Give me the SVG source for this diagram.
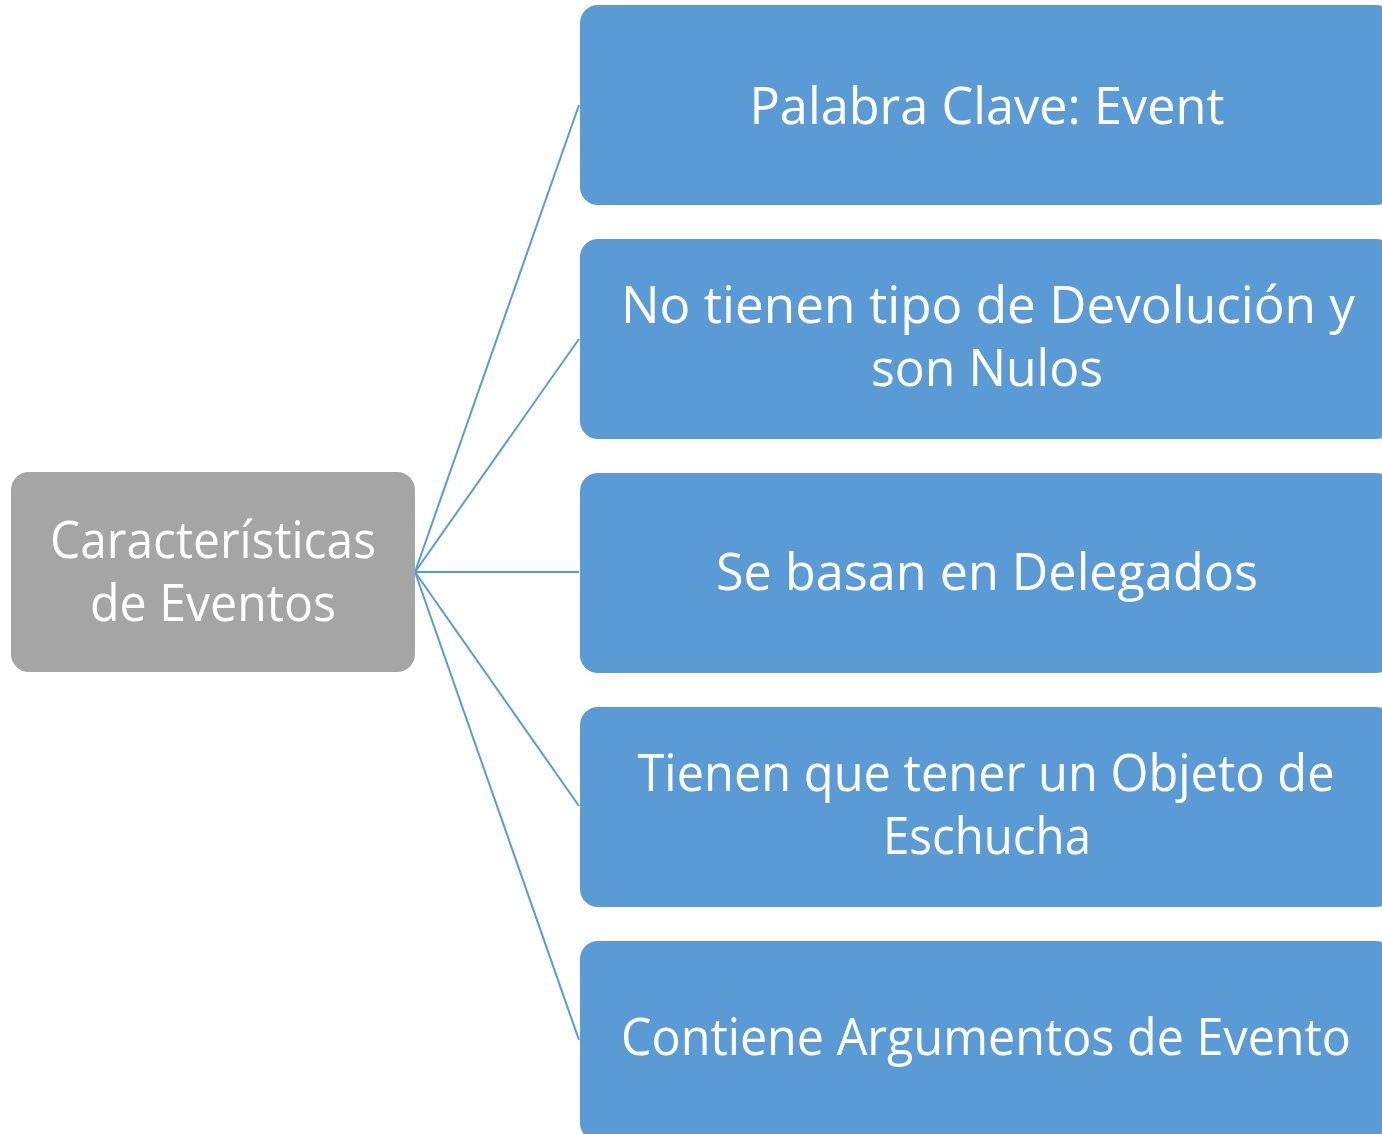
<svg xmlns="http://www.w3.org/2000/svg" width="1382" height="1134" viewBox="0 0 1382 1134">
  <style>
    .blue { fill: #5B9BD5; }
    .gray { fill: #A5A5A5; }
    .t { font-family: "Open Sans", "Noto Sans", "DejaVu Sans", sans-serif; font-size: 52px; fill: #FFFFFF; text-anchor: middle; }
    .c { stroke: #5B9BD5; stroke-width: 2; fill: none; }
  </style>
  <rect width="1382" height="1134" fill="#FFFFFF"/>
  <g id="connectors">
    <line class="c" x1="415" y1="572" x2="579" y2="105"/>
    <line class="c" x1="415" y1="572" x2="579" y2="339"/>
    <line class="c" x1="415" y1="572" x2="579" y2="572"/>
    <line class="c" x1="415" y1="572" x2="579" y2="806"/>
    <line class="c" x1="415" y1="572" x2="579" y2="1040"/>
  </g>
  <g id="root">
    <rect class="gray" x="11" y="472" width="404" height="200" rx="18"/>
    <text class="t" x="213" y="558" textLength="326" lengthAdjust="spacingAndGlyphs">Características</text>
    <text class="t" x="213" y="621" textLength="246" lengthAdjust="spacingAndGlyphs">de Eventos</text>
  </g>
  <g id="n1">
    <rect class="blue" x="580" y="5" width="814" height="200" rx="18"/>
    <text class="t" x="987" y="124" textLength="475" lengthAdjust="spacingAndGlyphs">Palabra Clave: Event</text>
  </g>
  <g id="n2">
    <rect class="blue" x="580" y="239" width="814" height="200" rx="18"/>
    <text class="t" x="988" y="323" textLength="734" lengthAdjust="spacingAndGlyphs">No tienen tipo de Devolución y</text>
    <text class="t" x="987" y="386" textLength="232" lengthAdjust="spacingAndGlyphs">son Nulos</text>
  </g>
  <g id="n3">
    <rect class="blue" x="580" y="473" width="814" height="200" rx="18"/>
    <text class="t" x="987" y="590" textLength="542" lengthAdjust="spacingAndGlyphs">Se basan en Delegados</text>
  </g>
  <g id="n4">
    <rect class="blue" x="580" y="707" width="814" height="200" rx="18"/>
    <text class="t" x="986" y="791" textLength="697" lengthAdjust="spacingAndGlyphs">Tienen que tener un Objeto de</text>
    <text class="t" x="987" y="854" textLength="208" lengthAdjust="spacingAndGlyphs">Eschucha</text>
  </g>
  <g id="n5">
    <rect class="blue" x="580" y="941" width="814" height="200" rx="18"/>
    <text class="t" x="986" y="1055" textLength="730" lengthAdjust="spacingAndGlyphs">Contiene Argumentos de Evento</text>
  </g>
</svg>
